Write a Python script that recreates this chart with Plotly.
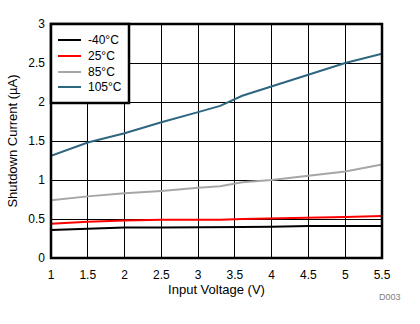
import plotly.graph_objects as go

voltage = [1.0, 1.5, 2.0, 2.5, 3.0, 3.3, 3.6, 4.0, 4.5, 5.0, 5.5]
series_names = ["-40°C", "25°C", "85°C", "105°C"]
i_m40 = [0.36, 0.375, 0.39, 0.39, 0.39, 0.39, 0.397, 0.40, 0.41, 0.41, 0.41]
i_25 = [0.44, 0.465, 0.48, 0.49, 0.49, 0.49, 0.50, 0.505, 0.515, 0.525, 0.54]
i_85 = [0.74, 0.79, 0.83, 0.86, 0.90, 0.92, 0.97, 1.00, 1.055, 1.11, 1.20]
i_105 = [1.31, 1.48, 1.60, 1.74, 1.87, 1.95, 2.08, 2.20, 2.34, 2.50, 2.62]
colors = ["#000000", "#ff0000", "#a6a6a6", "#2e6680"]

x_ticks = [1, 1.5, 2, 2.5, 3, 3.5, 4, 4.5, 5, 5.5]
x_labels = ["1", "1.5", "2", "2.5", "3", "3.5", "4", "4.5", "5", "5.5"]
y_ticks = [0, 0.5, 1, 1.5, 2, 2.5, 3]
y_labels = ["0", "0.5", "1", "1.5", "2", "2.5", "3"]

font = "Liberation Sans, Arial, sans-serif"

# plot area in pixels (for converting legend placement)
L, R, T, B = 51, 382, 24, 258
def px(x):
    return (x - L) / (R - L)
def py(y):
    return (B - y) / (B - T)

fig = go.Figure()
for name, ys, c in zip(series_names, [i_m40, i_25, i_85, i_105], colors):
    fig.add_trace(go.Scatter(x=voltage, y=ys, mode="lines", name=name,
                             line=dict(color=c, width=2), showlegend=False))

fig.update_layout(
    width=420, height=324,
    margin=dict(l=L, r=420 - R, t=T, b=324 - B),
    paper_bgcolor="white", plot_bgcolor="white",
    font=dict(family=font, size=12, color="black"),
    showlegend=False,
    xaxis=dict(range=[1, 5.5], tickvals=x_ticks, ticktext=x_labels,
               showgrid=True, gridcolor="black", gridwidth=1,
               zeroline=False, showline=False, ticks="", ticklabelstandoff=8,
               tickfont=dict(family=font, size=12),
               title=dict(text="Input Voltage (V)", standoff=3,
                          font=dict(family=font, size=13))),
    yaxis=dict(range=[0, 3], tickvals=y_ticks, ticktext=y_labels,
               showgrid=True, gridcolor="black", gridwidth=1,
               zeroline=False, showline=False, ticks="", ticklabelstandoff=5,
               tickfont=dict(family=font, size=12),
               title=dict(text="Shutdown Current (µA)", standoff=7,
                          font=dict(family=font, size=13))),
)

fig.add_shape(type="rect", xref="paper", yref="paper", x0=0, y0=0, x1=1, y1=1,
              line=dict(color="black", width=2.5), layer="above")

# legend box
fig.add_shape(type="rect", xref="paper", yref="paper",
              x0=px(51), x1=px(129), y0=py(103), y1=py(24),
              line=dict(color="black", width=2.5), fillcolor="white", layer="above")
leg_y = [40, 56, 72, 87]
for name, c, yy in zip(series_names, colors, leg_y):
    fig.add_shape(type="line", xref="paper", yref="paper",
                  x0=px(58), x1=px(81), y0=py(yy), y1=py(yy),
                  line=dict(color=c, width=2), layer="above")
    fig.add_annotation(text=name, xref="paper", yref="paper", x=px(86), y=py(yy),
                       xanchor="left", yanchor="middle", showarrow=False,
                       font=dict(family=font, size=12, color="black"))

fig.add_annotation(text="D003", xref="paper", yref="paper", x=px(403), y=py(297),
                   xanchor="right", yanchor="middle", showarrow=False,
                   font=dict(family=font, size=9, color="#808080"))

fig.write_html("out.html")
